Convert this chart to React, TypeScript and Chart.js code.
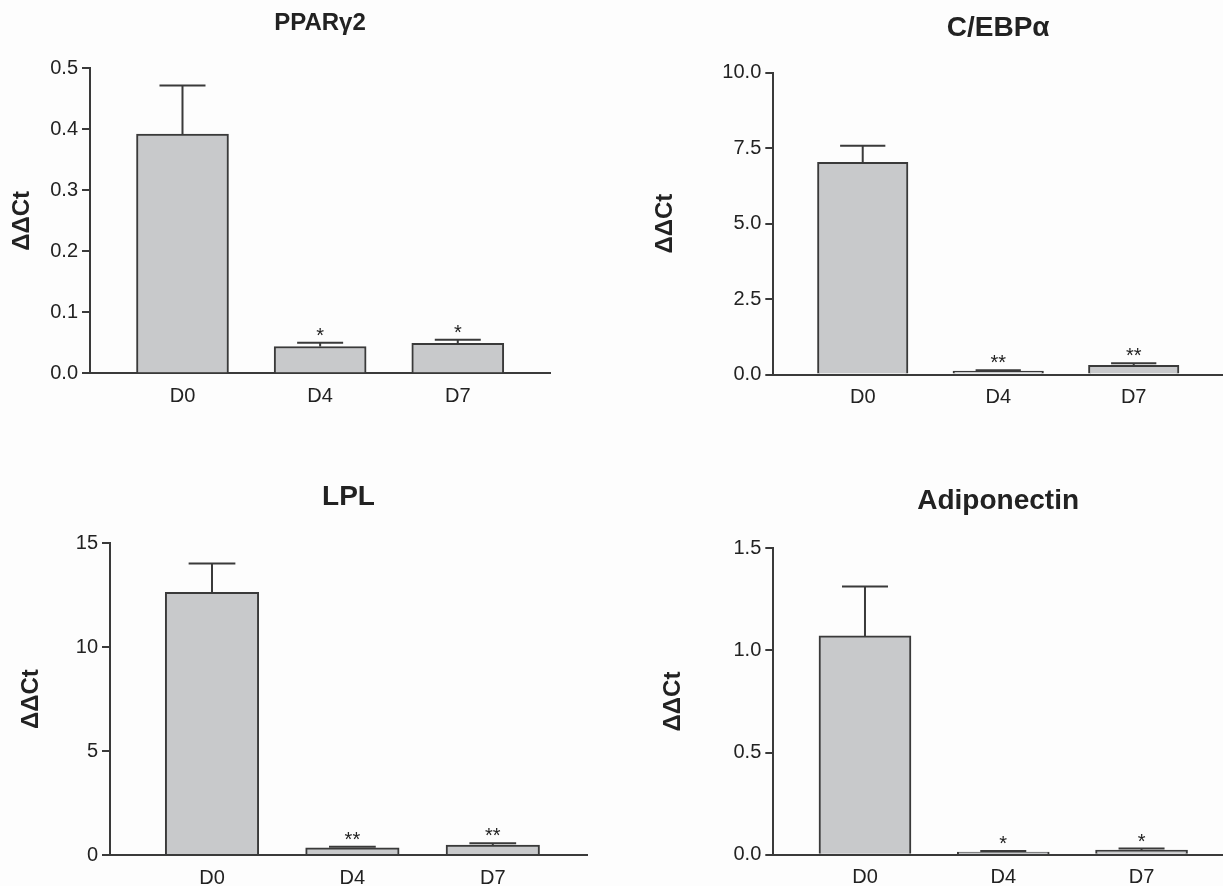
import React, { useEffect, useRef } from 'react';
import { Chart, registerables } from 'chart.js';

Chart.register(...registerables);

// ---------- data ----------
const categories = ['D0', 'D4', 'D7'];
const panelTitles = ['PPARγ2', 'C/EBPα', 'LPL', 'Adiponectin'];
const yAxisTitle = 'ΔΔCt';

const pparValues = [0.392, 0.044, 0.049];
const pparErrors = [0.08, 0.006, 0.006];
const pparMarks = ['', '*', '*'];
const pparTicks = ['0.0', '0.1', '0.2', '0.3', '0.4', '0.5'];

const cebpValues = [7.03, 0.11, 0.3];
const cebpErrors = [0.55, 0.03, 0.07];
const cebpMarks = ['', '**', '**'];
const cebpTicks = ['0.0', '2.5', '5.0', '7.5', '10.0'];

const lplValues = [12.64, 0.35, 0.48];
const lplErrors = [1.39, 0.05, 0.08];
const lplMarks = ['', '**', '**'];
const lplTicks = ['0', '5', '10', '15'];

const adipoValues = [1.071, 0.013, 0.023];
const adipoErrors = [0.242, 0.005, 0.007];
const adipoMarks = ['', '*', '*'];
const adipoTicks = ['0.0', '0.5', '1.0', '1.5'];

// ---------- style ----------
const FONT = '"Liberation Sans", Arial, Helvetica, sans-serif';
const TEXT = '#222222';
const LINE = '#3a3a3a';
const FILL = '#c8c9cb';
const BG = '#fdfdfd';

type PanelStyle = {
  left: number;
  top: number;
  width: number;
  height: number;
  yAxisWidth: number;
  xAxisHeight: number;
  padTop: number;
  padRight: number;
  xMin: number;
  xMax: number;
  barPx: number;
  titleSize: number;
  titleBaseline: number;
  yTitlePad: number;
};

const styles: PanelStyle[] = [
  { left: 0, top: 0, width: 600, height: 440, yAxisWidth: 90, xAxisHeight: 66.7, padTop: 68.3, padRight: 50, xMin: -0.672, xMax: 2.67, barPx: 92, titleSize: 24, titleBaseline: 30, yTitlePad: 8 },
  { left: 610, top: 0, width: 613, height: 440, yAxisWidth: 163.3, xAxisHeight: 65.5, padTop: 72.7, padRight: 0, xMin: -0.66, xMax: 2.659, barPx: 90.5, titleSize: 28, titleBaseline: 36, yTitlePad: 41 },
  { left: 0, top: 440, width: 610, height: 446, yAxisWidth: 110, xAxisHeight: 31, padTop: 103.3, padRight: 23, xMin: -0.7265, xMax: 2.671, barPx: 93.5, titleSize: 28, titleBaseline: 65, yTitlePad: 17 },
  { left: 610, top: 440, width: 613, height: 446, yAxisWidth: 163.3, xAxisHeight: 31.3, padTop: 108.3, padRight: 0, xMin: -0.663, xMax: 2.589, barPx: 92, titleSize: 28, titleBaseline: 69, yTitlePad: 49 },
];

function makeChart(
  canvas: HTMLCanvasElement,
  title: string,
  values: number[],
  errors: number[],
  marks: string[],
  ticks: string[],
  st: PanelStyle
) {
  const tickVals = ticks.map(Number);
  const yMax = tickVals[tickVals.length - 1];

  const overlay = {
    id: 'overlay',
    afterDatasetsDraw(chart: any) {
      const ctx = chart.ctx as CanvasRenderingContext2D;
      const meta = chart.getDatasetMeta(0);
      const ys = chart.scales.y;
      ctx.save();
      ctx.strokeStyle = LINE;
      ctx.lineWidth = 2;
      meta.data.forEach((bar: any, i: number) => {
        const top = ys.getPixelForValue(values[i] + errors[i]);
        const half = bar.width / 4;
        ctx.beginPath();
        ctx.moveTo(bar.x, bar.y);
        ctx.lineTo(bar.x, top);
        ctx.moveTo(bar.x - half, top);
        ctx.lineTo(bar.x + half, top);
        ctx.stroke();
        if (marks[i]) {
          ctx.fillStyle = TEXT;
          ctx.font = `20px ${FONT}`;
          ctx.textAlign = 'center';
          ctx.textBaseline = 'alphabetic';
          ctx.fillText(marks[i], bar.x, top - 1);
        }
      });
      ctx.fillStyle = TEXT;
      ctx.font = `bold ${st.titleSize}px ${FONT}`;
      ctx.textAlign = 'center';
      ctx.textBaseline = 'alphabetic';
      ctx.fillText(title, (chart.chartArea.left + chart.chartArea.right) / 2, st.titleBaseline);
      ctx.restore();
    },
  };

  return new Chart(canvas, {
    type: 'bar',
    data: {
      datasets: [
        {
          data: values.map((v, i) => ({ x: i, y: v })),
          backgroundColor: FILL,
          borderColor: LINE,
          borderWidth: 2,
          borderSkipped: 'start',
          barThickness: st.barPx,
        } as any,
      ],
    },
    options: {
      responsive: false,
      animation: false,
      devicePixelRatio: 1,
      layout: { padding: { top: st.padTop, right: st.padRight, left: 0, bottom: 0 } },
      plugins: {
        legend: { display: false },
        tooltip: { enabled: false },
        title: { display: false },
      },
      scales: {
        x: {
          type: 'linear',
          offset: false,
          min: st.xMin,
          max: st.xMax,
          grid: { display: false, offset: false },
          border: { display: true, color: LINE, width: 2 },
          ticks: {
            color: TEXT,
            font: { family: FONT, size: 20 },
            padding: 3,
            autoSkip: false,
            maxRotation: 0,
            callback: (v: any) => categories[v] ?? '',
          },
          afterBuildTicks: (s: any) => {
            s.ticks = categories.map((_, i) => ({ value: i }));
          },
          afterFit: (s: any) => {
            s.height = st.xAxisHeight;
          },
        } as any,
        y: {
          type: 'linear',
          min: 0,
          max: yMax,
          grid: { display: true, drawOnChartArea: false, drawTicks: true, tickLength: 8, color: LINE, lineWidth: 2 },
          border: { display: true, color: LINE, width: 2 },
          ticks: {
            color: TEXT,
            font: { family: FONT, size: 20 },
            padding: 4,
            autoSkip: false,
            callback: (_v: any, i: number) => ticks[i],
          },
          afterBuildTicks: (s: any) => {
            s.ticks = tickVals.map((v) => ({ value: v }));
          },
          afterFit: (s: any) => {
            s.width = st.yAxisWidth;
          },
          title: {
            display: true,
            text: yAxisTitle,
            color: TEXT,
            font: { family: FONT, size: 24, weight: 'bold' },
            padding: { top: st.yTitlePad, bottom: 0 },
          },
        } as any,
      },
    },
    plugins: [overlay],
  });
}

function Panel({ idx, values, errors, marks, ticks }: { idx: number; values: number[]; errors: number[]; marks: string[]; ticks: string[] }) {
  const ref = useRef<HTMLCanvasElement | null>(null);
  const st = styles[idx];
  useEffect(() => {
    if (!ref.current) return;
    const chart = makeChart(ref.current, panelTitles[idx], values, errors, marks, ticks, st);
    return () => chart.destroy();
  }, []);
  return (
    <canvas
      ref={ref}
      width={st.width}
      height={st.height}
      style={{ position: 'absolute', left: st.left, top: st.top, width: st.width, height: st.height, display: 'block' }}
    />
  );
}

export default function App() {
  return (
    <div style={{ position: 'absolute', left: 0, top: 0, width: 1223, height: 886, background: BG, overflow: 'hidden' }}>
      <Panel idx={0} values={pparValues} errors={pparErrors} marks={pparMarks} ticks={pparTicks} />
      <Panel idx={1} values={cebpValues} errors={cebpErrors} marks={cebpMarks} ticks={cebpTicks} />
      <Panel idx={2} values={lplValues} errors={lplErrors} marks={lplMarks} ticks={lplTicks} />
      <Panel idx={3} values={adipoValues} errors={adipoErrors} marks={adipoMarks} ticks={adipoTicks} />
    </div>
  );
}
